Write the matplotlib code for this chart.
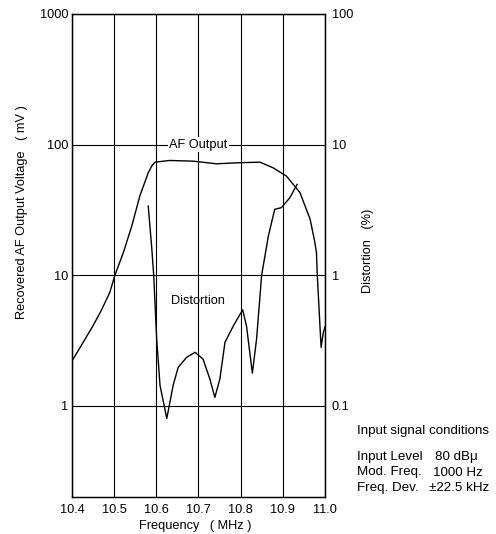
import matplotlib

matplotlib.use("Agg")

import matplotlib.pyplot as plt

plt.rcParams["font.family"] = ["Liberation Sans", "DejaVu Sans"]
plt.rcParams["font.size"] = 9.2

# AF output (mV) versus frequency (MHz)
af_freq = [10.400, 10.425, 10.450, 10.470, 10.490, 10.502, 10.522, 10.542, 10.561, 10.581, 10.590, 10.597,
           10.632, 10.688, 10.743, 10.798, 10.846, 10.877, 10.909, 10.941, 10.965,
           10.976, 10.980, 10.982, 10.991, 10.996, 11.000]
af_output = [2.2, 3.0, 4.1, 5.4, 7.4, 10.0, 14.9, 23.8, 40.3, 60.8, 69.0, 73.3,
             75.5, 74.6, 71.2, 72.6, 73.3, 66.4, 57.3, 42.8, 26.8,
             18.0, 14.9, 10.0, 2.8, 3.6, 4.0]

# Distortion (%) versus frequency (MHz)
dist_freq = [10.581, 10.589, 10.594, 10.601, 10.609, 10.625, 10.640, 10.652, 10.672,
             10.692, 10.711, 10.727, 10.739, 10.751, 10.763, 10.783, 10.805, 10.814,
             10.828, 10.838, 10.850, 10.866, 10.881, 10.897, 10.917, 10.934]
distortion = [3.38, 1.67, 1.00, 0.325, 0.143, 0.080, 0.143, 0.197, 0.235,
              0.257, 0.228, 0.161, 0.116, 0.161, 0.306, 0.41, 0.543, 0.41,
              0.178, 0.325, 1.00, 2.00, 3.19, 3.29, 3.92, 4.95]

x_ticks = [10.4, 10.5, 10.6, 10.7, 10.8, 10.9, 11.0]
left_ticks = [1, 10, 100, 1000]
right_ticks = [0.1, 1, 10, 100]

conditions = ["Input Level", "Mod. Freq.", "Freq. Dev."]
condition_values = ["80 dBμ", "1000 Hz", "±22.5 kHz"]

figure = plt.figure(figsize=(4.96, 5.34), dpi=100)
axis = figure.add_axes([0.145, 0.069, 0.51, 0.905])

axis.plot(af_freq, af_output, color="black", linewidth=1.0)
axis.plot(dist_freq, [d * 10 for d in distortion], color="black", linewidth=1.0)

axis.set_yscale("log")
axis.set_xlim(10.4, 11.0)
axis.set_ylim(0.2, 1000)
axis.set_xticks(x_ticks)
axis.set_xticklabels([f"{t:.1f}" for t in x_ticks])
axis.set_yticks(left_ticks)
axis.set_yticklabels([str(t) for t in left_ticks])
axis.minorticks_off()
axis.tick_params(axis="y", length=0, pad=2.7)
axis.tick_params(axis="x", length=0, pad=5)
axis.grid(True, color="black", linewidth=0.8)
for spine in axis.spines.values():
    spine.set_linewidth(1.0)

right = axis.twinx()
right.set_yscale("log")
right.set_ylim(0.02, 100)
right.set_yticks(right_ticks)
right.set_yticklabels(["0.1", "1", "10", "100"])
right.minorticks_off()
right.tick_params(length=0, pad=5)

axis.text(0.486, -0.059, "Frequency   ( MHz )", transform=axis.transAxes,
          ha="center", va="center")
axis.text(-0.198, 0.59, "Recovered AF Output Voltage   ( mV )", transform=axis.transAxes,
          rotation=90, ha="center", va="center")
axis.text(1.17, 0.509, "Distortion   (%)", transform=axis.transAxes,
          rotation=90, ha="center", va="center")

axis.text(10.7, 100, "AF Output", ha="center", va="center",
          bbox=dict(facecolor="white", edgecolor="none", pad=1))
axis.text(10.7, 6.3, "Distortion", ha="center", va="center")

figure.text(357 / 496, 1 - 431 / 534, "Input signal conditions", ha="left", va="center", fontsize=9.6)
value_x = [435, 433, 429]
for index, (name, value) in enumerate(zip(conditions, condition_values)):
    y = 1 - (457 + 15.5 * index) / 534
    figure.text(357 / 496, y, name, ha="left", va="center", fontsize=9.6)
    figure.text(value_x[index] / 496, y, value, ha="left", va="center", fontsize=9.6)

figure.savefig("out.png", dpi=100)
